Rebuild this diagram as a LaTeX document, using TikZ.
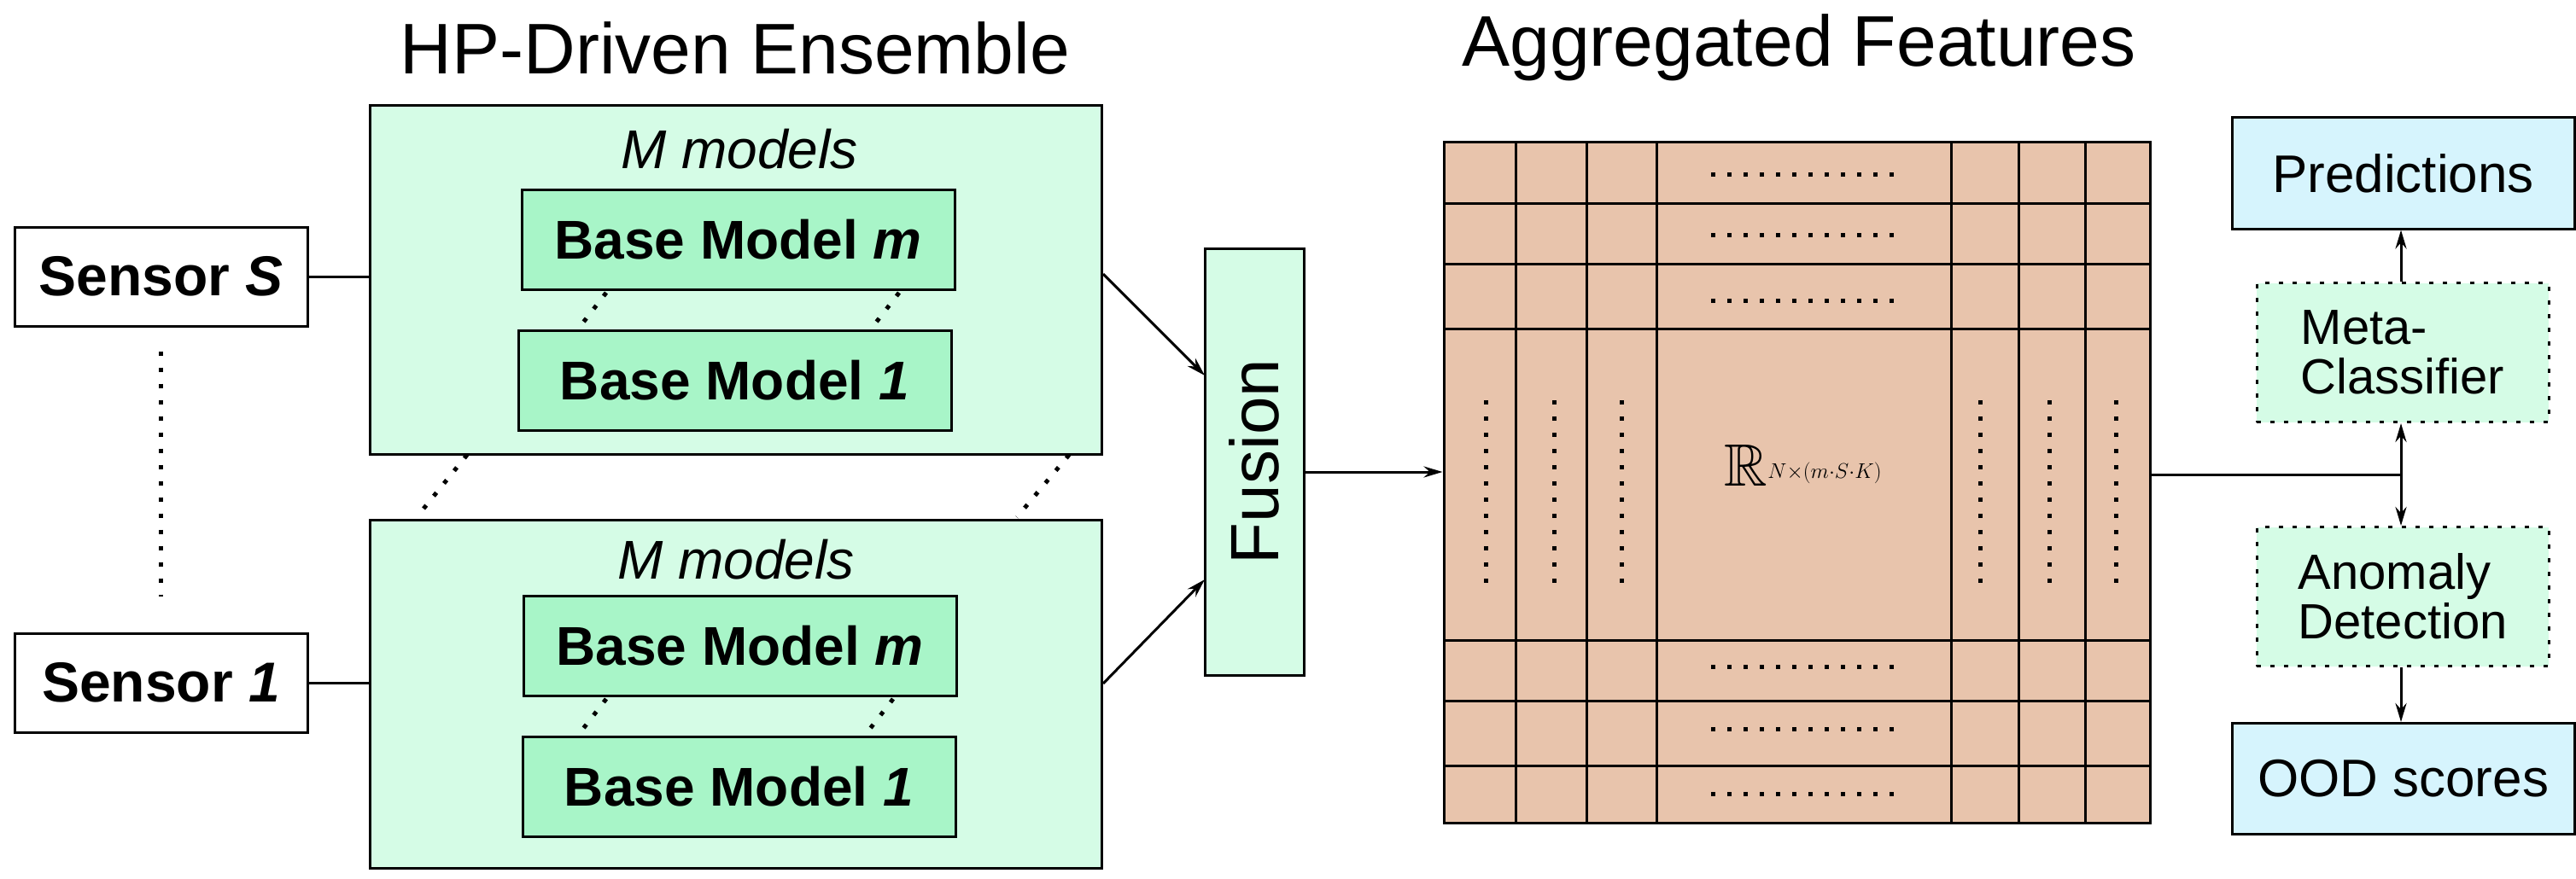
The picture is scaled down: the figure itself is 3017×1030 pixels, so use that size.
\documentclass[tikz,border=0pt]{standalone}
\usepackage{fontspec}
\usepackage{amssymb}
\setmainfont{Liberation Sans}
\usetikzlibrary{arrows.meta,calc}
\definecolor{mint}{HTML}{D5FCE6}
\definecolor{mintd}{HTML}{A8F5C8}
\definecolor{tan}{HTML}{E8C4AC}
\definecolor{sky}{HTML}{D6F4FD}
\newcommand{\fs}[1]{\fontsize{#1}{#1}\selectfont}
\begin{document}
\begin{tikzpicture}[x=1pt,y=-1pt,line width=3pt,
  box/.style={draw,inner sep=0pt},
  ens/.style={box,fill=mint,minimum width=857pt,minimum height=408pt},
  base/.style={box,fill=mintd,minimum width=507pt,minimum height=117pt,font=\fs{64}\bfseries},
  sensor/.style={box,fill=white,minimum width=343pt,minimum height=116pt,font=\fs{66}\bfseries},
  outb/.style={box,fill=sky,minimum width=401pt,minimum height=130pt,font=\fs{62}},
  dbox/.style={draw,dash pattern=on 5pt off 11pt,fill=mint,minimum width=342pt,minimum height=163pt,inner sep=0pt,align=left,font=\fs{58}},
  dots/.style={line width=5pt,dash pattern=on 5pt off 14pt},
  arr/.style={-{Stealth[length=22pt,width=13pt]}}]
\useasboundingbox (0,0) rectangle (3017,1030);

\node (t1) at (861,56) {\fs{84}HP-Driven Ensemble};
\node (t2) at (2107,56) {\fs{84}Aggregated Features};

% ensembles
\node[ens] (ensT) at (861.5,328) {};
\node[ens] (ensB) at (861.5,813) {};
\node (mT) at (866,175) {\fs{64}\itshape M models};
\node (mB) at (862,656) {\fs{64}\itshape M models};
\node[base] (bTm) at (864.5,281) {Base Model \textit{m}};
\node[base] (bT1) at (860.5,446) {Base Model \textit{1}};
\node[base] (bBm) at (866.5,757) {Base Model \textit{m}};
\node[base] (bB1) at (865.5,922) {Base Model \textit{1}};

\draw[dots] (710,343) -- (679,383);
\draw[dots] (1053,343) -- (1022,383);
\draw[dots] (710,819) -- (679,859);
\draw[dots] (1046,819) -- (1015,859);
\draw[dots] (547,533) -- (488,606);
\draw[dots] (1252,533) -- (1191,606);

% sensors
\node[sensor] (senS) at (188.5,324) {Sensor \textit{S}};
\node[sensor] (sen1) at (188.5,800) {Sensor \textit{1}};
\draw[dots] (senS.south) ++(0,28) coordinate (d1) (sen1.north) ++(0,-42) coordinate (d2);
\draw[dots] (d1) -- (d2);
\draw (senS.east) -- (senS.east -| ensT.west);
\draw (sen1.east) -- (sen1.east -| ensB.west);

% fusion
\node[box,fill=mint,minimum width=116pt,minimum height=500pt] (fus) at (1469,541) {};
\node[rotate=90] at (fus.center) {\fs{80}Fusion};
\coordinate (a1) at (1292,321);
\coordinate (a2) at (1411,440);
\coordinate (a3) at (1292,801);
\coordinate (a4) at (1411,679);
\draw[arr] (a1) -- (a2);
\draw[arr] (a3) -- (a4);

% matrix
\node[box,fill=tan,minimum width=827pt,minimum height=798pt] (mat) at (2104.5,565) {};
\foreach \x in {1775,1858,1940,2285,2364,2442} \draw (\x,166) -- (\x,964);
\foreach \y in {238,309,385,750,821,897} \draw (1691,\y) -- (2518,\y);
\fill[tan] (1942,387) rectangle (2283,748);
\foreach \y in {204,275,352,781,854,930} \draw[dots] (2004,\y) -- (2228,\y);
\foreach \x in {1740,1820,1899,2319,2400,2478} \draw[dots] (\x,469) -- (\x,690);
\node (R) at (2112,545) {\fs{70}$\mathbb{R}^{N\times(m\cdot S\cdot K)}$};
\draw[arr] (fus.east |- 0,553) -- (mat.west |- 0,553);

% outputs
\node[outb] (pred) at (2814.5,203) {Predictions};
\node[dbox] (meta) at (2814,413) {Meta-\\Classifier};
\node[dbox] (anom) at (2814,699) {Anomaly\\Detection};
\node[outb] (ood) at (2814.5,912.5) {OOD scores};
\coordinate (j) at (2812,556);
\draw (mat.east |- j) -- (j);
\draw[arr] (j) -- (j |- meta.south);
\draw[arr] (j) -- (j |- anom.north);
\draw[arr] (meta.north -| j) -- (pred.south -| j);
\draw[arr] (anom.south -| j) -- (ood.north -| j);
\end{tikzpicture}
\end{document}
